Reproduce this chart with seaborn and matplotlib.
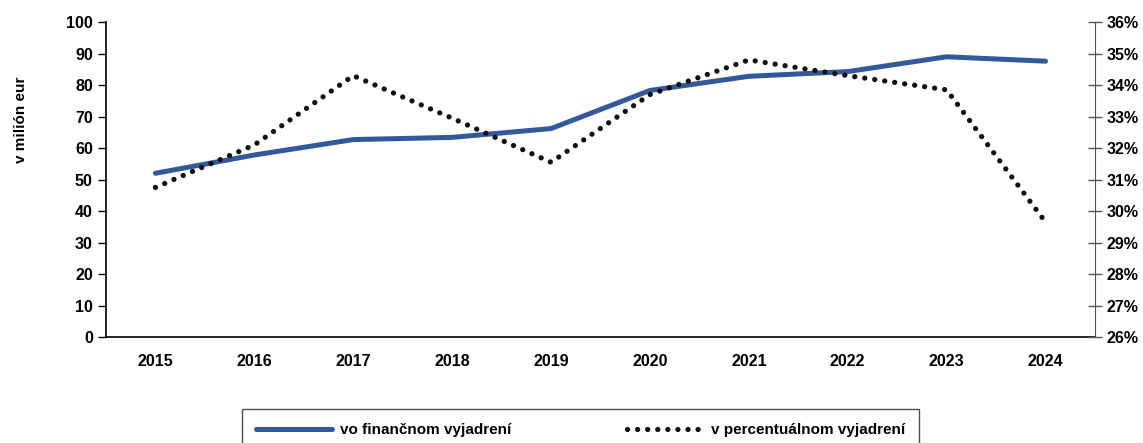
import pandas as pd
import seaborn as sns
import matplotlib.pyplot as plt
from matplotlib.ticker import FixedLocator, PercentFormatter

# údaje odčítané z grafu
roky = ['2015', '2016', '2017', '2018', '2019', '2020', '2021', '2022', '2023', '2024']
financne = [52.0, 57.8, 62.7, 63.4, 66.2, 78.3, 82.8, 84.3, 89.0, 87.6]
percenta = [30.75, 32.1, 34.3, 32.95, 31.55, 33.7, 34.8, 34.3, 33.85, 29.65]

df = pd.DataFrame({'rok': roky, 'fin': financne, 'pct': percenta})

sns.set_style('white')
plt.rcParams['font.family'] = ['Liberation Sans Narrow', 'Liberation Sans', 'DejaVu Sans']
plt.rcParams['font.weight'] = 'bold'
plt.rcParams['axes.labelweight'] = 'bold'
plt.rcParams['text.color'] = 'black'
plt.rcParams['axes.labelcolor'] = 'black'
plt.rcParams['xtick.color'] = 'black'
plt.rcParams['ytick.color'] = 'black'

fig = plt.figure(figsize=(11.43, 4.43), dpi=100)
ax = fig.add_axes([0.0927, 0.2393, 0.958 - 0.0927, 0.950 - 0.2393])
ax2 = ax.twinx()

sns.lineplot(data=df, x='rok', y='fin', ax=ax, color='#33599a', linewidth=3.6,
             solid_capstyle='round', label='vo finančnom vyjadrení', legend=False)
sns.lineplot(data=df, x='rok', y='pct', ax=ax2, color='#111111', linewidth=3.8,
             linestyle=(0, (0.01, 1.9)), dash_capstyle='round',
             label='v percentuálnom vyjadrení', legend=False)

ax.set_xlim(-0.5, 9.5)
ax.set_ylim(0, 100)
ax.set_yticks(range(0, 101, 10))
ax2.set_ylim(26, 36)
ax2.set_yticks(range(26, 37, 1))
ax2.yaxis.set_major_formatter(PercentFormatter(decimals=0))

ax.set_xticks(range(len(roky)))
ax.set_xticklabels(roky)
ax.xaxis.set_minor_locator(FixedLocator([i - 0.5 for i in range(len(roky) + 1)]))
ax.tick_params(axis='x', which='major', length=0, pad=12, labelsize=11.5)
ax.tick_params(axis='x', which='minor', length=6, width=1, direction='out', color='black')
ax.tick_params(axis='y', length=6, width=1, direction='out', color='black', labelsize=11.5, left=True)
ax2.tick_params(axis='y', length=10, width=1, direction='inout', color='#555555', labelsize=11.5, right=True)

ax.set_xlabel('')
ax.set_ylabel('v milión eur', fontsize=11)
ax.yaxis.set_label_coords(-0.079, 0.69)
ax2.set_ylabel('')

for a in (ax, ax2):
    a.spines['top'].set_visible(False)
    a.grid(False)
ax.spines['left'].set_color('black')
ax.spines['left'].set_linewidth(1.2)
ax.spines['bottom'].set_color('black')
ax.spines['bottom'].set_linewidth(1.2)
ax.spines['right'].set_visible(False)
ax2.spines['left'].set_visible(False)
ax2.spines['bottom'].set_visible(False)
ax2.spines['right'].set_color('#555555')

h1, l1 = ax.get_legend_handles_labels()
h2, l2 = ax2.get_legend_handles_labels()
leg = fig.legend(h1 + h2, l1 + l2, loc='center', ncol=2,
                 bbox_to_anchor=(580.5 / 1143, 1 - 430 / 443),
                 frameon=True, fancybox=False, edgecolor='#222222',
                 fontsize=11, handlelength=5, columnspacing=7.6,
                 borderpad=0.9, handletextpad=0.5)
leg.get_frame().set_linewidth(1.0)

fig.savefig('out.png', dpi=100)
